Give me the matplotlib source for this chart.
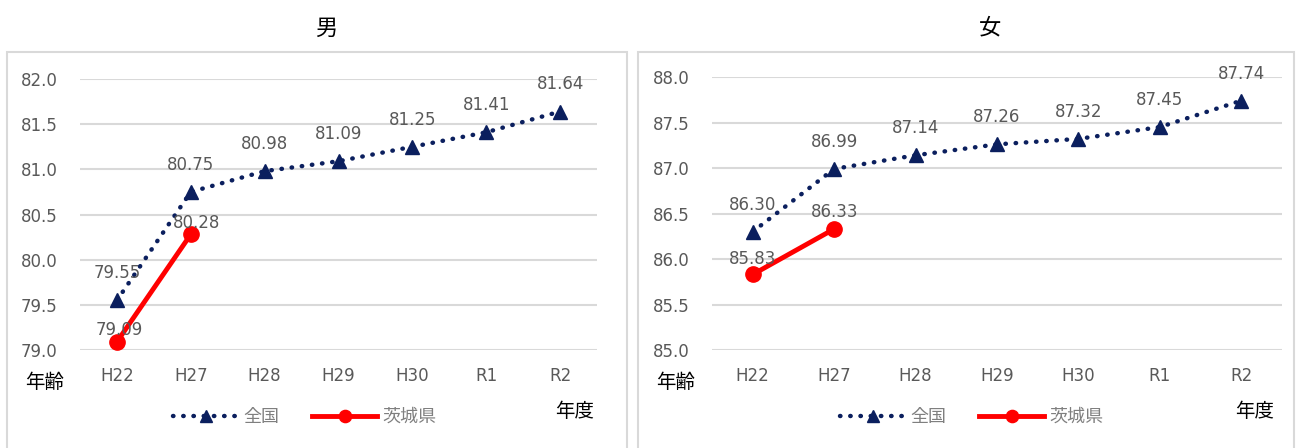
import matplotlib
matplotlib.use("Agg")
import matplotlib.pyplot as plt
from matplotlib.patches import Rectangle

plt.rcParams['font.family'] = ['Noto Sans CJK JP', 'DejaVu Sans']

years = ["H22", "H27", "H28", "H29", "H30", "R1", "R2"]
male_national = [79.55, 80.75, 80.98, 81.09, 81.25, 81.41, 81.64]
male_ibaraki = [79.09, 80.28]
female_national = [86.30, 86.99, 87.14, 87.26, 87.32, 87.45, 87.74]
female_ibaraki = [85.83, 86.33]
male_ticks = [79.0, 79.5, 80.0, 80.5, 81.0, 81.5, 82.0]
female_ticks = [85.0, 85.5, 86.0, 86.5, 87.0, 87.5, 88.0]

NAVY = "#0B1F5E"
RED = "#FF0000"
GRAY = "#595959"
GRID = "#D9D9D9"

W, H = 1296, 448
fig = plt.figure(figsize=(W / 100, H / 100), dpi=100)

def fx(px):
    return px / W

def fy(py):
    return 1 - py / H

# panel borders
for (x0, x1) in [(7, 627), (638, 1294)]:
    fig.patches.append(Rectangle((fx(x0), fy(470)), fx(x1 - x0), (470 - 52) / H,
                                 transform=fig.transFigure, fill=False,
                                 edgecolor=GRID, linewidth=1.5))

def panel(rect, nat, ibk, ticks, title, title_x, nenrei_x, nendo_x, ibk_offsets, legend_x):
    ax = fig.add_axes(rect)
    x = list(range(len(years)))
    ax.plot(x, nat, color=NAVY, linestyle=(0, (0.1, 2.2)), linewidth=3.2,
            dash_capstyle='round', marker='^', markersize=10, zorder=3, label="全国")
    ax.plot(x[:len(ibk)], ibk, color=RED, linewidth=3.5, marker='o',
            markersize=11, zorder=4, label="茨城県")
    for xi, v in zip(x, nat):
        ax.annotate(f"{v:.2f}", (xi, v), xytext=(0, 13), textcoords='offset points',
                    ha='center', va='bottom', fontsize=12, color=GRAY,
                    family=['DejaVu Sans'], zorder=5)
    for (xi, v), (dx, dy) in zip(zip(x, ibk), ibk_offsets):
        ax.annotate(f"{v:.2f}", (xi, v), xytext=(dx, dy), textcoords='offset points',
                    ha='center', va='bottom', fontsize=12, color=GRAY,
                    family=['DejaVu Sans'], zorder=5)
    ax.set_xlim(-0.5, len(years) - 0.5)
    ax.set_ylim(ticks[0], ticks[-1])
    ax.set_yticks(ticks)
    ax.set_yticklabels([f"{t:.1f}" for t in ticks], family=['DejaVu Sans'])
    ax.set_xticks(x)
    ax.set_xticklabels(years, family=['DejaVu Sans'])
    ax.tick_params(axis='both', length=0, colors=GRAY, labelsize=12)
    ax.tick_params(axis='x', pad=12)
    ax.tick_params(axis='y', pad=16)
    ax.yaxis.grid(True, color=GRID, linewidth=1.5)
    ax.set_axisbelow(True)
    for s in ax.spines.values():
        s.set_visible(False)
    ax.patch.set_alpha(0)
    fig.text(fx(title_x), fy(28), title, ha='center', va='center', fontsize=16, color='black')
    fig.text(fx(nenrei_x), fy(382), "年齢", ha='center', va='center', fontsize=14, color='black')
    fig.text(fx(nendo_x), fy(411), "年度", ha='center', va='center', fontsize=14, color='black')
    leg = ax.legend(loc='center', bbox_to_anchor=(fx(legend_x), fy(417)),
                    bbox_transform=fig.transFigure, ncol=2, frameon=False,
                    fontsize=13, handlelength=3.6, columnspacing=1.8,
                    handletextpad=0.3, markerscale=0.8)
    for t in leg.get_texts():
        t.set_color("#7F7F7F")
    return ax

panel([fx(80), fy(350), fx(517), (350 - 79) / H], male_national, male_ibaraki,
      male_ticks, "男", 326, 45, 575, [(2, 2), (4, 2)], 305)
panel([fx(712), fy(350), fx(570), (350 - 77) / H], female_national, female_ibaraki,
      female_ticks, "女", 990, 676, 1255, [(0, 5), (0, 6)], 972)

fig.savefig("out.png", dpi=100)
